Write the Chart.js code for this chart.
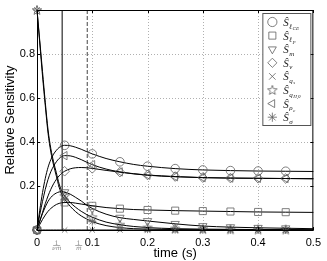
<!DOCTYPE html>
<html>
<head>
<meta charset="utf-8">
<script src="https://cdn.jsdelivr.net/npm/chart.js@4.4.1/dist/chart.umd.min.js"></script>
<style>
  body { margin: 0; background: #fff; }
</style>
</head>
<body>
<canvas id="myChart" width="327" height="261"></canvas>
<script>
// sample times (s) shared by all curves
const times = [0, 0.005, 0.01, 0.015, 0.02, 0.025, 0.03, 0.035, 0.04, 0.045, 0.05, 0.06, 0.07, 0.08, 0.09, 0.1, 0.125, 0.15, 0.175, 0.2, 0.25, 0.3, 0.35, 0.4, 0.45, 0.5];

const sLCE = [0, 0.09, 0.17, 0.235, 0.285, 0.32, 0.345, 0.362, 0.375, 0.382, 0.385, 0.383, 0.376, 0.367, 0.356, 0.346, 0.325, 0.31, 0.298, 0.29, 0.279, 0.273, 0.27, 0.268, 0.267, 0.266];
const sLP  = [0, 0.025, 0.048, 0.068, 0.085, 0.098, 0.108, 0.116, 0.121, 0.124, 0.125, 0.125, 0.122, 0.118, 0.114, 0.11, 0.102, 0.097, 0.093, 0.091, 0.088, 0.086, 0.084, 0.082, 0.081, 0.08];
const sM   = [0, 0.04, 0.075, 0.105, 0.13, 0.148, 0.16, 0.168, 0.173, 0.174, 0.172, 0.163, 0.148, 0.132, 0.113, 0.098, 0.072, 0.056, 0.048, 0.041, 0.028, 0.018, 0.013, 0.01, 0.008, 0.006];
const sNu  = [0, 0.04, 0.08, 0.12, 0.155, 0.185, 0.21, 0.23, 0.246, 0.258, 0.267, 0.278, 0.283, 0.284, 0.283, 0.28, 0.271, 0.263, 0.256, 0.25, 0.243, 0.238, 0.236, 0.235, 0.234, 0.233];
const sQs  = [0, 0, 0, 0, 0, 0, 0, 0, 0, 0, 0, 0, 0, 0, 0, 0, 0, 0, 0, 0, 0, 0, 0, 0, 0, 0];
const sQH0 = [1, 0.86, 0.72, 0.58, 0.455, 0.37, 0.31, 0.26, 0.21, 0.175, 0.155, 0.125, 0.103, 0.085, 0.07, 0.058, 0.036, 0.024, 0.016, 0.011, 0.006, 0.004, 0.003, 0.002, 0.002, 0.001];
const sRho = [0, 0.07, 0.13, 0.185, 0.23, 0.265, 0.29, 0.31, 0.325, 0.334, 0.338, 0.337, 0.33, 0.32, 0.308, 0.297, 0.277, 0.264, 0.255, 0.249, 0.242, 0.238, 0.236, 0.235, 0.234, 0.233];
const sSig = [1, 0.85, 0.7, 0.565, 0.44, 0.355, 0.295, 0.245, 0.195, 0.16, 0.14, 0.108, 0.083, 0.064, 0.05, 0.038, 0.02, 0.011, 0.006, 0.004, 0.002, 0.001, 0.001, 0, 0, 0];

// vertical guides at 1/(nu m) and 1/m
const guideTimes = [0.0455, 0.0909];
const guideDenoms = ['νm', 'm'];

const xTicks = [0, 0.1, 0.2, 0.3, 0.4, 0.5];
const yTicks = [0, 0.2, 0.4, 0.6, 0.8, 1];

const markerColor = '#606060';

function makeStar() {
  const c = document.createElement('canvas');
  c.width = 12; c.height = 12;
  const g = c.getContext('2d');
  g.strokeStyle = markerColor;
  g.lineWidth = 0.8;
  g.beginPath();
  for (let k = 0; k < 10; k++) {
    const r = k % 2 ? 2.1 : 5;
    const a = -Math.PI / 2 + k * Math.PI / 5;
    const px = 6 + r * Math.cos(a), py = 6.4 + r * Math.sin(a);
    if (k === 0) g.moveTo(px, py); else g.lineTo(px, py);
  }
  g.closePath();
  g.stroke();
  return c;
}
const starImg = makeStar();

function isMarker(t) {
  const k = t / 0.05;
  return Math.abs(k - Math.round(k)) < 1e-6 && t < 0.49;
}

// legend entries: main symbol + subscript + sub-subscript
const legendSubs = [['ℓ', 'CE'], ['ℓ', 'P'], ['m', ''], ['ν', ''], ['q', 's'], ['q', 'H,0'], ['ρ', 'c'], ['σ', '']];

function series(label, values, style, rotation, radius) {
  return {
    label: label,
    data: times.map((t, i) => ({ x: t, y: values[i] })),
    borderColor: '#000',
    borderWidth: 1,
    pointStyle: style,
    pointRotation: rotation || 0,
    pointBorderColor: markerColor,
    pointBackgroundColor: 'rgba(0,0,0,0)',
    pointBorderWidth: 0.8,
    pointRadius: ctx => isMarker(times[ctx.dataIndex]) ? (radius || 4.3) : 0,
    pointHoverRadius: 0,
    cubicInterpolationMode: 'monotone',
    clip: false
  };
}

function guide(t, dash, color) {
  return {
    label: 'guide',
    data: [{ x: t, y: 0 }, { x: t, y: 1 }],
    borderColor: color,
    borderWidth: 1,
    borderDash: dash,
    pointRadius: 0
  };
}

const datasets = [
  series('lCE', sLCE, 'circle'),
  series('lP', sLP, 'rect', 0, 5),
  series('m', sM, 'triangle', 180, 4.8),
  series('nu', sNu, 'rectRot', 0, 4.8),
  series('qs', sQs, 'crossRot', 0, 3.8),
  series('qH0', sQH0, starImg),
  series('rho', sRho, 'triangle', 270, 4.8),
  series('sigma', sSig, 'star', 0, 4),
  guide(guideTimes[0], [], '#000'),
  guide(guideTimes[1], [4, 2], '#444')
];

// dotted grid drawn under the data
const dottedGrid = {
  id: 'dottedGrid',
  beforeDatasetsDraw(chart) {
    const { ctx, chartArea: a, scales } = chart;
    ctx.save();
    ctx.strokeStyle = '#b0b0b0';
    ctx.lineWidth = 1;
    ctx.setLineDash([1, 2]);
    ctx.beginPath();
    xTicks.slice(1, -1).forEach(v => {
      const px = Math.round(scales.x.getPixelForValue(v)) + 0.5;
      ctx.moveTo(px, a.top); ctx.lineTo(px, a.bottom);
    });
    yTicks.slice(1, -1).forEach(v => {
      const py = Math.round(scales.y.getPixelForValue(v)) + 0.5;
      ctx.moveTo(a.left, py); ctx.lineTo(a.right, py);
    });
    ctx.stroke();
    ctx.restore();
  }
};

const frame = {
  id: 'frame',
  afterDatasetsDraw(chart) {
    const { ctx, chartArea: a, scales } = chart;
    ctx.save();
    ctx.strokeStyle = '#000';
    ctx.lineWidth = 1;
    ctx.strokeRect(a.left + 0.5, a.top + 0.5, a.right - a.left - 1, a.bottom - a.top);
    ctx.beginPath();
    xTicks.forEach(v => {
      const px = Math.round(scales.x.getPixelForValue(v)) + 0.5;
      ctx.moveTo(px, a.bottom); ctx.lineTo(px, a.bottom - 3);
      ctx.moveTo(px, a.top); ctx.lineTo(px, a.top + 3);
    });
    yTicks.forEach(v => {
      const py = Math.round(scales.y.getPixelForValue(v)) + 0.5;
      ctx.moveTo(a.left, py); ctx.lineTo(a.left + 3, py);
      ctx.moveTo(a.right, py); ctx.lineTo(a.right - 3, py);
    });
    ctx.stroke();
    ctx.restore();
  }
};

const fracLabels = {
  id: 'fracLabels',
  afterDraw(chart) {
    const { ctx, scales } = chart;
    const shift = [-5.5, -8.5];
    ctx.save();
    ctx.fillStyle = '#888';
    ctx.strokeStyle = '#888';
    ctx.lineWidth = 0.7;
    ctx.textAlign = 'center';
    guideTimes.forEach((t, i) => {
      const cx = scales.x.getPixelForValue(t) + shift[i];
      ctx.font = '6px "DejaVu Serif"';
      ctx.textBaseline = 'alphabetic';
      ctx.fillText('1', cx, 244.5);
      ctx.beginPath();
      ctx.moveTo(cx - 3.5, 245.5); ctx.lineTo(cx + 3.5, 245.5);
      ctx.stroke();
      ctx.font = 'italic 6px "DejaVu Serif"';
      ctx.textBaseline = 'top';
      ctx.fillText(guideDenoms[i], cx, 245.5);
    });
    ctx.restore();
  }
};

const legendBox = {
  id: 'legendBox',
  afterDraw(chart) {
    const { ctx, chartArea: a } = chart;
    const x0 = a.right - 51, y0 = a.top + 3, w = 48, h = 112;
    ctx.save();
    ctx.fillStyle = '#fff';
    ctx.fillRect(x0, y0, w, h);
    ctx.strokeStyle = '#555';
    ctx.lineWidth = 1;
    ctx.strokeRect(x0 + 0.5, y0 + 0.5, w, h);
    datasets.slice(0, 8).forEach((ds, i) => {
      const cy = y0 + 9 + i * 13.6;
      const cx = x0 + 10;
      const r = ds.pointStyle === 'rect' ? 5 : 4.6;
      ctx.strokeStyle = markerColor;
      ctx.fillStyle = 'rgba(0,0,0,0)';
      ctx.lineWidth = 0.8;
      Chart.helpers.drawPoint(ctx, { pointStyle: ds.pointStyle, rotation: ds.pointRotation, radius: r, borderWidth: 0.8 }, cx, cy);
      ctx.fillStyle = '#222';
      ctx.textAlign = 'left';
      ctx.textBaseline = 'alphabetic';
      ctx.font = 'italic 11px "Liberation Serif"';
      const tx = x0 + 21;
      ctx.fillText('Ŝ', tx, cy + 4);
      const sx = tx + ctx.measureText('Ŝ').width + 0.5;
      ctx.font = 'italic 7px "Liberation Serif"';
      ctx.fillText(legendSubs[i][0], sx, cy + 6.5);
      const ssx = sx + ctx.measureText(legendSubs[i][0]).width + 0.3;
      ctx.font = 'italic 5px "Liberation Serif"';
      ctx.fillText(legendSubs[i][1], ssx, cy + 8);
    });
    ctx.restore();
  }
};

const ctx = document.getElementById('myChart').getContext('2d');

const myChart = new Chart(ctx, {
  type: 'line',
  data: { datasets: datasets },
  options: {
    responsive: false,
    animation: false,
    devicePixelRatio: 1,
    layout: { padding: { top: 10, right: 10, left: 0, bottom: 0 } },
    plugins: {
      legend: { display: false },
      tooltip: { enabled: false }
    },
    scales: {
      x: {
        type: 'linear',
        min: 0,
        max: 0.5,
        afterBuildTicks: s => { s.ticks = xTicks.map(v => ({ value: v })); },
        afterFit: s => { s.height = 31; },
        grid: { display: false, drawTicks: false },
        border: { display: false },
        ticks: {
          padding: 6,
          color: '#000',
          font: { family: '"Liberation Sans", Arial', size: 11 },
          maxRotation: 0,
          callback: v => v === 0 ? '0' : v.toFixed(1)
        },
        title: {
          display: true,
          text: 'time (s)',
          color: '#000',
          font: { family: '"Liberation Sans", Arial', size: 13 },
          padding: { top: 0, bottom: 0 }
        }
      },
      y: {
        min: 0,
        max: 1,
        afterBuildTicks: s => { s.ticks = yTicks.map(v => ({ value: v })); },
        afterFit: s => { s.width = 37; },
        grid: { display: false, drawTicks: false },
        border: { display: false },
        ticks: {
          padding: 2,
          color: '#000',
          font: { family: '"Liberation Sans", Arial', size: 11 },
          callback: v => (v > 0 && v < 1) ? v.toFixed(1) : ''
        },
        title: {
          display: true,
          text: 'Relative Sensitivity',
          color: '#000',
          font: { family: '"Liberation Sans", Arial', size: 13 },
          padding: { top: 3, bottom: 0 }
        }
      }
    }
  },
  plugins: [dottedGrid, frame, fracLabels, legendBox]
});
</script>
</body>
</html>
